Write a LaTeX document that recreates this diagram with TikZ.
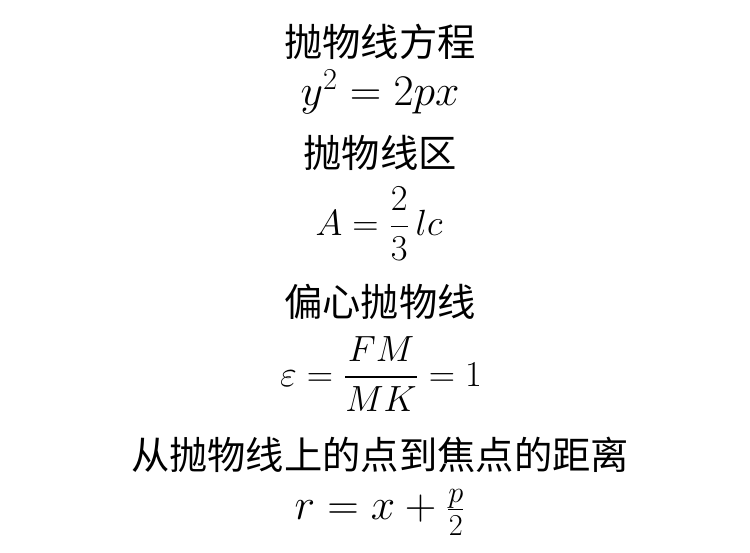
\documentclass[tikz,border=0pt]{standalone}
\usepackage{amsmath}
\usepackage{fontspec}
\newfontfamily\cjk{Noto Sans CJK SC}
\begin{document}
\begin{tikzpicture}[x=0.02cm,y=-0.02cm,
  cjkline/.style={inner sep=0pt, font=\cjk\fontsize{21.8}{26}\selectfont},
  mathline/.style={inner sep=0pt, font=\fontsize{24}{28}\selectfont}]
\useasboundingbox (0,0) rectangle (750,552);
\node[cjkline] (t1) at (380,42) {抛物线方程};
\node[mathline] (m1) at (380,92) {$y^2 = 2px$};
\node[cjkline] (t2) at (380,153) {抛物线区};
\node[mathline, font=\fontsize{22}{26}\selectfont] (m2) at (379,224) {$A = \dfrac{2}{3}\,lc$};
\node[cjkline] (t3) at (380,302) {偏心抛物线};
\node[mathline, font=\fontsize{21}{25}\selectfont] (m3) at (381,374) {$\varepsilon = \dfrac{FM}{MK} = 1$};
\node[cjkline] (t4) at (380,455) {从抛物线上的点到焦点的距离};
\node[mathline, font=\fontsize{23}{27}\selectfont] (m4) at (380,512) {$r = x + \genfrac{}{}{0.4pt}{1}{p}{2}$};
\end{tikzpicture}
\end{document}
